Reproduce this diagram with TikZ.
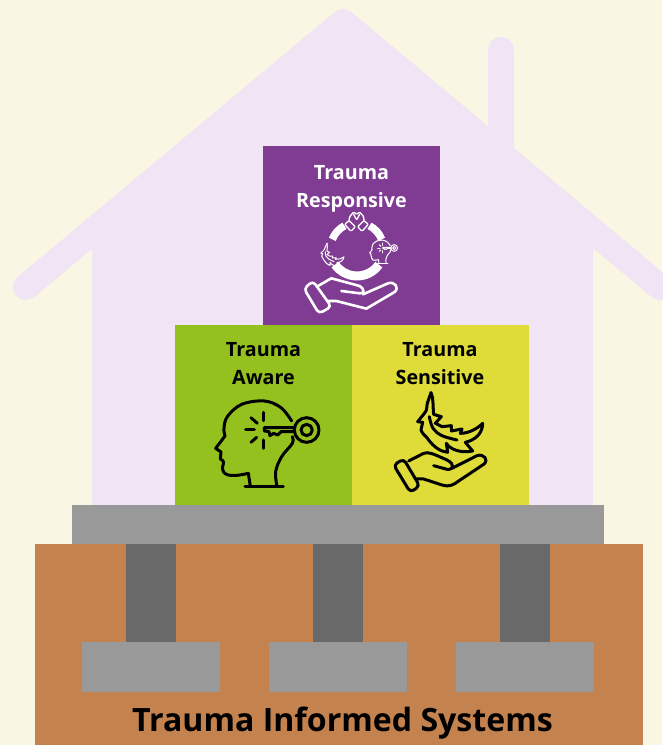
\documentclass[tikz,border=0pt]{standalone}
\usepackage{fontspec}
\setmainfont{Open Sans}
\definecolor{bgc}{HTML}{F9F6E3}
\definecolor{housec}{HTML}{F0E4F5}
\definecolor{purp}{HTML}{803C93}
\definecolor{grn}{HTML}{95C11F}
\definecolor{yel}{HTML}{DFDC3A}
\definecolor{gr1}{HTML}{999999}
\definecolor{gr2}{HTML}{696969}
\definecolor{brn}{HTML}{C4824E}
\tikzset{
  blockbox/.style={minimum width=177pt,minimum height=180pt,inner sep=0,anchor=north west,draw=none},
  rectbox/.style={inner sep=0,anchor=north west,draw=none},
  blabel/.style={font=\bfseries\fontsize{19.7}{28}\selectfont,align=center,anchor=north,inner sep=0},
  ico/.style={line cap=round,line join=round,fill=none},
}
\newcommand{\headicon}{%
  \draw plot[smooth,tension=.6] coordinates {(350,288) (318,248) (268,228) (200,238) (157,275) (147,310) (150,333)}
    -- (122,370) -- (138,381) -- (136,402) .. controls (150,408) and (145,415) .. (143,425) .. controls (140,452) and (165,458) .. (220,445) -- (226,484);
  \draw (210,484) -- (325,484);
  \draw plot[smooth,tension=.6] coordinates {(306,484) (302,440) (320,395) (352,355) (352,335)};
  \draw (395,315) circle[radius=37];
  \draw (395,315) circle[radius=17];
  \draw (358,308) -- (268,308) -- (268,318) -- (282,320) -- (285,332) -- (296,325) -- (308,330) -- (318,320) -- (358,320);
  \draw (267,262) -- (267,287);
  \draw (228,278) -- (247,295);
  \draw (212,315) -- (238,315);
  \draw (228,352) -- (245,337);
  \draw (265,345) -- (265,370);
}
\newcommand{\feathericon}{%
  \draw plot[smooth,tension=.35] coordinates {(237,203) (226,235) (222,258) (197,290)};
  \draw (197,290) -- (212,292) -- (207,315) .. controls (212,330) and (225,335) .. (230,345) .. controls (245,365) and (265,380) .. (287,382)
    -- (283,355) .. controls (295,375) and (330,385) .. (362,378) -- (340,352)
    .. controls (370,345) and (392,325) .. (392,295) .. controls (375,312) and (350,325) .. (325,325)
    -- (330,312) -- (298,318) -- (298,302) -- (270,305) -- (250,295) -- (268,275) -- (245,268)
    .. controls (242,240) and (245,220) .. (237,203);
  \draw plot[smooth,tension=.6] coordinates {(232,275) (243,310) (270,332) (315,345)};
}
\begin{document}
\begin{tikzpicture}[x=1pt,y=-1pt]
\useasboundingbox (0,0) rectangle (662,745);
\fill[bgc] (0,0) rectangle (662,745);
% house
\fill[housec] (92,232) -- (343,22) -- (593,232) -- (593,505) -- (92,505) -- cycle;
\draw[housec,line width=26pt,line cap=round,line join=round] (26,287) -- (343,22) -- (660,287);
\draw[housec,line width=26pt,line cap=round] (501,50) -- (501,160);
% foundation
\node[rectbox,fill=brn,minimum width=608pt,minimum height=201pt] (ground) at (35,544) {};
\node[rectbox,fill=gr1,minimum width=532pt,minimum height=39pt] (slab) at (72,505) {};
\node[rectbox,fill=gr2,minimum width=50pt,minimum height=98pt] (pillarA) at (126,544) {};
\node[rectbox,fill=gr2,minimum width=50pt,minimum height=98pt] (pillarB) at (313,544) {};
\node[rectbox,fill=gr2,minimum width=50pt,minimum height=98pt] (pillarC) at (500,544) {};
\node[rectbox,fill=gr1,minimum width=138pt,minimum height=50pt] (footA) at (82,642) {};
\node[rectbox,fill=gr1,minimum width=138pt,minimum height=50pt] (footB) at (269,642) {};
\node[rectbox,fill=gr1,minimum width=138pt,minimum height=50pt] (footC) at (456,642) {};
\node[font=\bfseries\fontsize{32.1}{38}\selectfont,text=black,inner sep=0] (title) at (342.5,723) {Trauma Informed Systems};
% blocks
\node[blockbox,fill=purp] (resp) at (263,146) {};
\node[blockbox,fill=grn] (aware) at (175,325) {};
\node[blockbox,fill=yel] (sens) at (352,325) {};
\node[blabel,text=white] (respT) at (351.5,165) {Trauma\\Responsive};
\node[blabel,text=black] (awareT) at (263.5,342) {Trauma\\Aware};
\node[blabel,text=black] (sensT) at (440,342) {Trauma\\Sensitive};
% aware icon
\begin{scope}[shift={(175,325)},scale=.3333,ico,draw=black,line width=3pt]
  \headicon
\end{scope}
% sensitive icon
\begin{scope}[shift={(352,325)},scale=.3333,ico,draw=black,line width=3pt]
  \feathericon
  \draw[rounded corners=4pt] (125,420) -- (155,402) -- (203,483) -- (175,502) -- cycle;
  \draw (170,408) -- (215,385) .. controls (230,380) and (240,385) .. (285,405) .. controls (310,418) and (305,435) .. (285,433) -- (245,422);
  \draw (300,430) -- (375,392) .. controls (395,385) and (412,405) .. (395,418) -- (320,468) .. controls (305,480) and (290,487) .. (270,480) -- (215,462) -- (192,462);
\end{scope}
% responsive icon
\begin{scope}[shift={(263,146)},scale=.3333,ico,draw=white,line width=2.6pt]
  \draw[line cap=butt,line width=7.5pt] (282,310) ++(-158:80) arc[start angle=-158,end angle=-118,radius=80];
  \draw[line cap=butt,line width=7.5pt] (282,310) ++(-62:80) arc[start angle=-62,end angle=-22,radius=80];
  \draw[line cap=butt,line width=9pt] (282,310) ++(35:80) arc[start angle=35,end angle=145,radius=80];
  % big hand
  \draw[rounded corners=4pt] (123,428) -- (150,405) -- (205,482) -- (168,503) -- cycle;
  \draw (165,420) -- (205,397) -- (290,420) .. controls (305,428) and (305,445) .. (290,442) -- (235,435);
  \draw (300,445) -- (375,412) .. controls (395,405) and (410,425) .. (395,438) -- (310,488) -- (220,465) -- (195,465);
  % small head
  \begin{scope}[shift={(287,221)},scale=.27,line width=1pt]
    \headicon
  \end{scope}
  % small feather
  \begin{scope}[shift={(178,290)},rotate=-8,scale=.36,line width=1pt]
    \begin{scope}[shift={(-197,-203)}]
      \feathericon
    \end{scope}
  \end{scope}
  % handshake
  \begin{scope}[line width=1.3pt,rounded corners=1pt]
    \draw (245,235) -- (258,224) -- (277,242) -- (264,256) -- cycle;
    \draw (316,235) -- (303,224) -- (284,242) -- (297,256) -- cycle;
    \draw (258,224) -- (260,212) -- (272,198) -- (281,205) -- (290,198) -- (302,212) -- (303,224);
    \draw (272,205) -- (281,222) -- (290,205);
  \end{scope}
\end{scope}
\end{tikzpicture}
\end{document}
